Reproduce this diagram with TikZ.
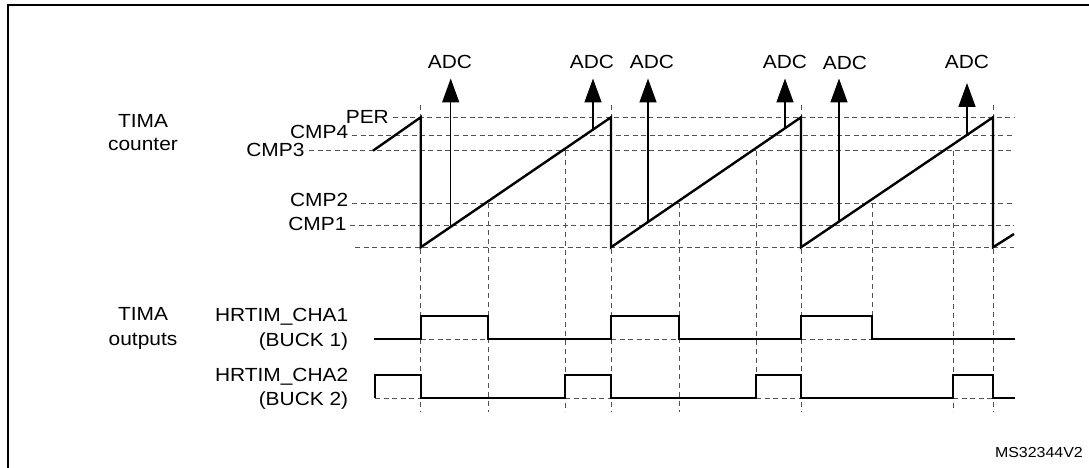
\documentclass[tikz,border=0pt]{standalone}
\usepackage{fontspec}
\setmainfont[FakeStretch=1.1]{Liberation Sans}
\usetikzlibrary{arrows.meta}
\begin{document}
\begin{tikzpicture}[x=1pt,y=-1pt,
  lbl/.style={font=\fontsize{19}{23}\selectfont, inner sep=0pt},
  small/.style={font=\fontsize{14.5}{17}\selectfont, inner sep=0pt},
  hgrid/.style={draw=black!68, line width=1pt, dash pattern=on 5pt off 3.5pt},
  vgrid/.style={draw=black!68, line width=0.9pt, dash pattern=on 5pt off 4pt},
  ramp/.style={line width=2.4pt, line join=miter},
  sig/.style={line width=2.2pt, line join=miter},
  adc/.style={line width=1.5pt, -{Triangle[length=24pt,width=17pt]}}]
\useasboundingbox (0,0) rectangle (1089,468);
\fill[white] (0,0) rectangle (1089,468);
% frame
\draw[line width=2pt] (7.7,468) -- (7.7,5) -- (1089,5);

% labels
\node[lbl, anchor=base, align=center] (tcnt) at (143,150) {TIMA\\counter};
\node[lbl, anchor=base east] (per) at (389,124) {PER};
\node[lbl, anchor=base east] (cmp4) at (348.4,138.3) {CMP4};
\node[lbl, anchor=base east] (cmp3) at (304.6,156.7) {CMP3};
\node[lbl, anchor=base east] (cmp2) at (348.4,206.7) {CMP2};
\node[lbl, anchor=base east] (cmp1) at (346.6,230) {CMP1};

\node[lbl, anchor=base] (tout) at (143,320) {TIMA};
\node[lbl, anchor=base] (tout2) at (143,345) {outputs};
\node[lbl, anchor=base east] (cha1) at (348.4,321.7) {HRTIM\_CHA1};
\node[lbl, anchor=base east] (buck1) at (348.4,346) {(BUCK 1)};
\node[lbl, anchor=base east] (cha2) at (348.4,381) {HRTIM\_CHA2};
\node[lbl, anchor=base east] (buck2) at (348.4,405) {(BUCK 2)};

\node[small, anchor=base east] (ms) at (1083,457) {MS32344V2};

% horizontal dashed levels
\draw[hgrid] (393,117.3) -- (1014,117.3);
\draw[hgrid] (352,136) -- (1014,136);
\draw[hgrid] (309,150.7) -- (1014,150.7);
\draw[hgrid] (352,203) -- (1014,203);
\draw[hgrid] (350,225.7) -- (1014,225.7);
\draw[hgrid] (355,247.3) -- (1014,247.3);

% vertical dashed lines
\foreach \x in {420.7,611,801,993} \draw[vgrid] (\x,105) -- (\x,411.7);
\draw[vgrid] (488,203) -- (488,411.7);
\draw[vgrid] (679,203) -- (679,411.7);
\draw[vgrid] (872,203) -- (872,339);
\draw[vgrid] (565,150.7) -- (565,411.7);
\draw[vgrid] (756,150.7) -- (756,398);
\draw[vgrid] (953,150.7) -- (953,411.7);

% dashed low levels under pulses
\draw[hgrid] (420.7,339) -- (488,339);
\draw[hgrid] (611,339) -- (679,339);
\draw[hgrid] (801,339) -- (872,339);
\draw[hgrid] (375,398) -- (420.7,398);
\draw[hgrid] (565,398) -- (611,398);
\draw[hgrid] (756,398) -- (801,398);
\draw[hgrid] (953,398) -- (993,398);

% counter ramp
\draw[ramp] (373,150.7) -- (420.7,117.3) -- (420.7,247.3) -- (611,117.3) -- (611,247.3)
  -- (801,117.3) -- (801,247.3) -- (993,117.3) -- (993,247.3) -- (1014,234);

% outputs
\draw[sig] (374,339) -- (420.7,339) -- (420.7,316) -- (488,316) -- (488,339)
  -- (611,339) -- (611,316) -- (679,316) -- (679,339)
  -- (801,339) -- (801,316) -- (872,316) -- (872,339) -- (1015,339);
\draw[sig] (375,398) -- (375,374.7) -- (420.7,374.7) -- (420.7,398)
  -- (565,398) -- (565,374.7) -- (611,374.7) -- (611,398)
  -- (756,398) -- (756,374.7) -- (801,374.7) -- (801,398)
  -- (953,398) -- (953,374.7) -- (993,374.7) -- (993,398) -- (1015,398);

% ADC triggers
\coordinate (b1) at (450.7,225.7); \coordinate (t1) at (450.7,78.5);
\coordinate (b2) at (593,129.6);   \coordinate (t2) at (593,78.5);
\coordinate (b3) at (648,222);     \coordinate (t3) at (648,78.5);
\coordinate (b4) at (785,128.3);   \coordinate (t4) at (785,78.5);
\coordinate (b5) at (839,221.6);   \coordinate (t5) at (839,78.5);
\coordinate (b6) at (967,134.9);   \coordinate (t6) at (967,83);
\foreach \i in {1,...,6} \draw[adc] (b\i) -- (t\i);
\node[lbl, anchor=base] (adc1) at (450,68.5) {ADC};
\node[lbl, anchor=base] (adc2) at (592,68.5) {ADC};
\node[lbl, anchor=base] (adc3) at (652,68.5) {ADC};
\node[lbl, anchor=base] (adc4) at (785,68.5) {ADC};
\node[lbl, anchor=base] (adc5) at (845,69.5) {ADC};
\node[lbl, anchor=base] (adc6) at (967,68.5) {ADC};
\end{tikzpicture}
\end{document}
